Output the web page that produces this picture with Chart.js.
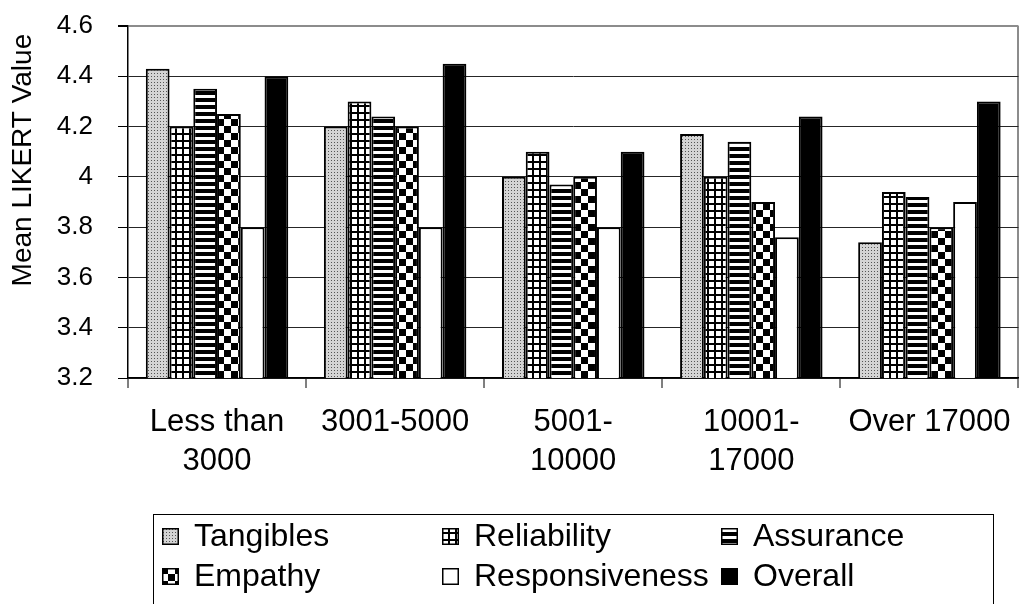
<!DOCTYPE html>
<html>
<head>
<meta charset="utf-8">
<script src="https://cdn.jsdelivr.net/npm/chart.js@4"></script>
<style>
  html, body { margin: 0; padding: 0; background: #fff; }
  #wrap { width: 1026px; height: 604px; }
</style>
</head>
<body>
<div id="wrap"><canvas id="c" width="1026" height="604"></canvas></div>
<script>
// Income groups and mean LIKERT scores per service-quality dimension
const categories = [['Less than', '3000'], '3001-5000', ['5001-', '10000'], ['10001-', '17000'], 'Over 17000'];
const seriesNames = ['Tangibles', 'Reliability', 'Assurance', 'Empathy', 'Responsiveness', 'Overall'];
const tangibles      = [4.43, 4.20, 4.00, 4.17, 3.74];
const reliability    = [4.20, 4.30, 4.10, 4.00, 3.94];
const assurance      = [4.35, 4.24, 3.97, 4.14, 3.92];
const empathy        = [4.25, 4.20, 4.00, 3.90, 3.80];
const responsiveness = [3.80, 3.80, 3.80, 3.76, 3.90];
const overall        = [4.40, 4.45, 4.10, 4.24, 4.30];
const yTicks = [3.2, 3.4, 3.6, 3.8, 4.0, 4.2, 4.4, 4.6];

const FONT = "'Liberation Sans', Arial, sans-serif";

// Monochrome fill patterns
function makePattern(w, h, paint) {
  const cv = document.createElement('canvas');
  cv.width = w; cv.height = h;
  const g = cv.getContext('2d');
  paint(g);
  return g.createPattern(cv, 'repeat');
}
const ctx0 = document.getElementById('c').getContext('2d');
const dotFill = makePattern(3, 3, g => {
  g.fillStyle = '#d4d4d4'; g.fillRect(0, 0, 3, 3);
  g.fillStyle = '#555555'; g.fillRect(1, 1, 1, 1);
});
const gridFill = makePattern(7, 7, g => {
  g.fillStyle = '#fff'; g.fillRect(0, 0, 7, 7);
  g.fillStyle = '#000'; g.fillRect(0, 0, 7, 2); g.fillRect(0, 0, 2, 7);
});
const stripeFill = makePattern(7, 7, g => {
  g.fillStyle = '#fff'; g.fillRect(0, 0, 7, 7);
  g.fillStyle = '#000'; g.fillRect(0, 0, 7, 4);
});
const checkFill = makePattern(14, 14, g => {
  g.fillStyle = '#fff'; g.fillRect(0, 0, 14, 14);
  g.fillStyle = '#000'; g.fillRect(0, 0, 7, 7); g.fillRect(7, 7, 7, 7);
});

const fills = [dotFill, gridFill, stripeFill, checkFill, '#ffffff', '#000000'];
const values = [tangibles, reliability, assurance, empathy, responsiveness, overall];

const datasets = seriesNames.map((name, i) => ({
  label: name,
  data: values[i],
  backgroundColor: fills[i],
  borderColor: '#000',
  borderWidth: 2,
  borderSkipped: false,
  categoryPercentage: 0.8,
  barPercentage: 1.0
}));

// Boxed three-column legend under the axis
const gridLegend = {
  id: 'gridLegend',
  afterDraw(chart) {
    const ctx = chart.ctx;
    const items = Chart.defaults.plugins.legend.labels.generateLabels(chart);
    ctx.save();
    ctx.strokeStyle = '#000';
    ctx.lineWidth = 1;
    ctx.strokeRect(153.5, 514.5, 840, 100);
    const colX = [162, 442, 721];
    const rowBase = [546, 586];
    ctx.font = '32px ' + FONT;
    ctx.textBaseline = 'alphabetic';
    ctx.textAlign = 'left';
    items.forEach((it, i) => {
      const x = colX[i % 3];
      const base = rowBase[Math.floor(i / 3)];
      ctx.fillStyle = it.fillStyle;
      ctx.fillRect(x, base - 18, 17, 17);
      ctx.strokeStyle = '#000';
      ctx.lineWidth = 1.5;
      ctx.strokeRect(x + 0.75, base - 17.25, 15.5, 15.5);
      ctx.fillStyle = '#000';
      ctx.fillText(it.text, x + 32, base);
    });
    ctx.restore();
  }
};

new Chart(ctx0, {
  type: 'bar',
  data: { labels: categories, datasets },
  plugins: [gridLegend],
  options: {
    responsive: false,
    animation: false,
    events: [],
    layout: { padding: { top: 26, right: 6, left: 0, bottom: 0 } },
    plugins: {
      legend: { display: false },
      tooltip: { enabled: false }
    },
    scales: {
      x: {
        offset: true,
        grid: {
          offset: true,
          drawOnChartArea: true,
          color: c => (c.type === 'tick') ? 'rgba(0,0,0,0)' : '#8c8c8c',
          lineWidth: 2,
          tickColor: '#000',
          tickWidth: 1,
          tickLength: 10
        },
        border: { color: '#000', width: 1.5 },
        ticks: {
          color: '#000',
          font: { family: FONT, size: 31, lineHeight: 1.25 },
          padding: 15,
          maxRotation: 0,
          autoSkip: false
        },
        afterFit: s => { s.height = 226; }
      },
      y: {
        min: 3.2,
        max: 4.6,
        afterBuildTicks: s => { s.ticks = yTicks.map(v => ({ value: v })); },
        grid: {
          color: c => (c.tick && Math.abs(c.tick.value - 4.6) < 1e-6) ? '#8c8c8c' : '#262626',
          lineWidth: c => (c.tick && Math.abs(c.tick.value - 4.6) < 1e-6) ? 2 : 1,
          tickColor: '#000',
          tickLength: 10
        },
        border: { color: '#000', width: 1.5 },
        ticks: {
          color: '#000',
          font: { family: FONT, size: 26 },
          padding: 25,
          callback: v => String(Number(Number(v).toFixed(1)))
        },
        title: {
          display: true,
          text: 'Mean LIKERT Value ',
          align: 'end',
          color: '#000',
          font: { family: FONT, size: 28 },
          padding: { top: 6, bottom: 0 }
        },
        afterFit: s => { s.width = 128; s.paddingTop = 0; }
      }
    }
  }
});
</script>
</body>
</html>
